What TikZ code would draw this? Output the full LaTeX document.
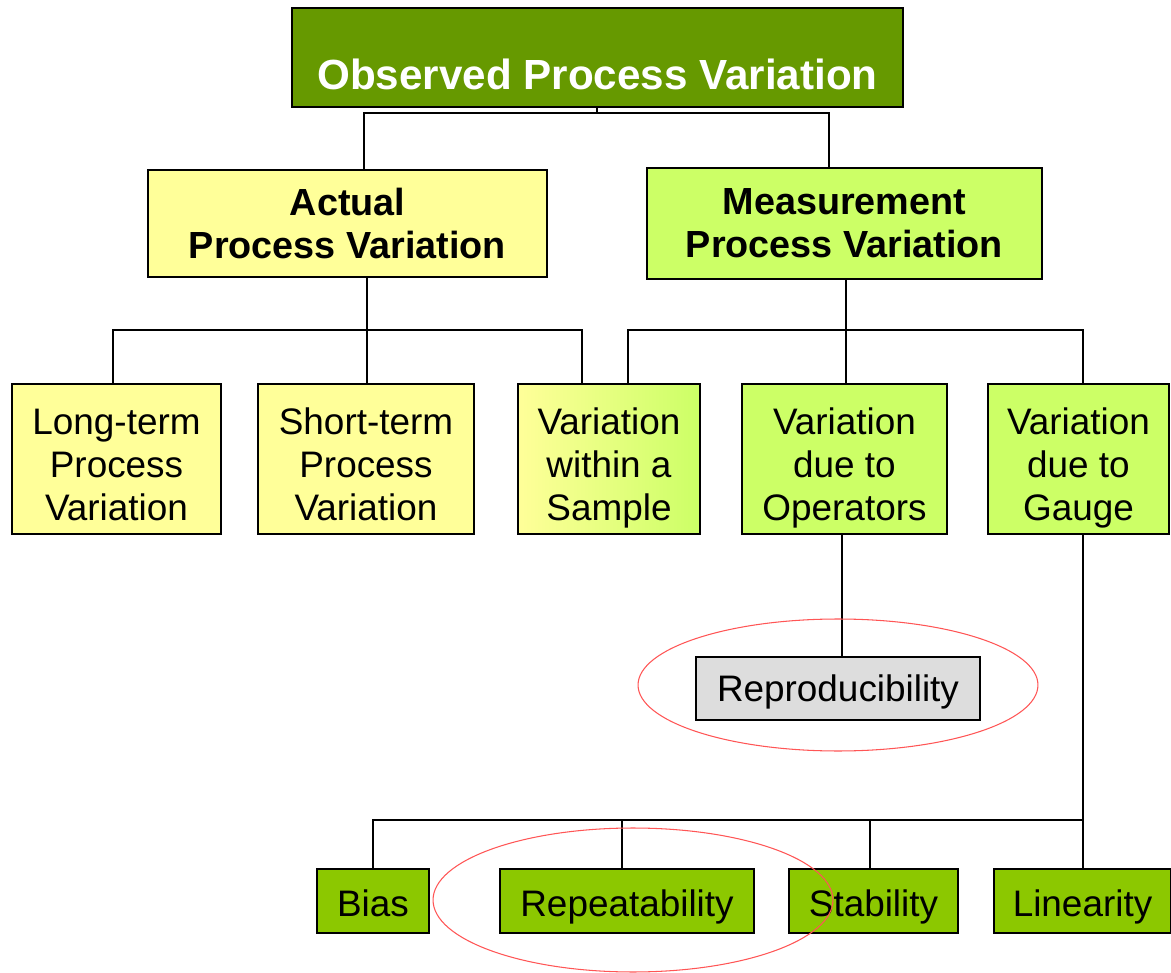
\documentclass[tikz,border=0pt]{standalone}
\usepackage{fontspec}
\setmainfont{Liberation Sans}
\usepackage{xcolor}
\usepackage{tikz}

\definecolor{obsgreen}{HTML}{669900}
\definecolor{actyellow}{HTML}{FFFF99}
\definecolor{measgreen}{HTML}{CCFF66}
\definecolor{leafgreen}{HTML}{8CC800}
\definecolor{reprogray}{HTML}{DDDDDD}
\definecolor{ringred}{HTML}{FF5555}

\begin{document}
\begin{tikzpicture}[x=0.02cm, y=-0.02cm]
        % Define styles
        \tikzset{
            box/.style={rectangle, draw, line width=1.1pt, align=center, inner sep=0pt},
            obsbox/.style={box, fill=obsgreen, text=white, font=\fontsize{24}{29}\selectfont\bfseries, minimum width=12.22cm, minimum height=1.98cm, text height=37pt, text depth=0pt},
            branchbox/.style={box, font=\fontsize{21.5}{24.5}\selectfont\bfseries, minimum height=2.14cm},
            sourcebox/.style={box, font=\fontsize{21}{24.5}\selectfont, minimum height=3cm, text height=70pt, text depth=0pt},
            leafbox/.style={box, font=\fontsize{21}{24.5}\selectfont, minimum height=1.28cm, text height=18pt, text depth=0pt},
            wire/.style={line width=1.1pt},
            ring/.style={draw=ringred, line width=0.6pt}
        }
        \useasboundingbox (0,0) rectangle (1171,973);

        % Nodes
        \node[obsbox] (obs_node) at (597.5,57.5) {Observed Process Variation};
        \node[branchbox, fill=actyellow, minimum width=7.98cm] (actual_node) at (347.5,223.5) {Actual\\Process Variation};
        \node[branchbox, fill=measgreen, minimum width=7.9cm, minimum height=2.22cm] (meas_node) at (844.5,223.5) {Measurement\\Process Variation};

        \node[sourcebox, fill=actyellow, minimum width=4.18cm] (long_node) at (116.5,459) {Long-term\\Process\\Variation};
        \node[sourcebox, fill=actyellow, minimum width=4.32cm] (short_node) at (366,459) {Short-term\\Process\\Variation};
        \node[sourcebox, left color=actyellow, right color=measgreen, minimum width=3.64cm] (sample_node) at (609,459) {Variation\\within a\\Sample};
        \node[sourcebox, fill=measgreen, minimum width=4.1cm] (oper_node) at (844.5,459) {Variation\\due to\\Operators};
        \node[sourcebox, fill=measgreen, minimum width=3.62cm] (gauge_node) at (1078.5,459) {Variation\\due to\\Gauge};

        \node[leafbox, fill=reprogray, minimum width=5.68cm, minimum height=1.26cm, text height=15pt] (repro_node) at (838,688.5) {Reproducibility};

        \node[leafbox, fill=leafgreen, minimum width=2.24cm] (bias_node) at (373,901) {Bias};
        \node[leafbox, fill=leafgreen, minimum width=5.08cm] (repeat_node) at (627,901) {Repeatability};
        \node[leafbox, fill=leafgreen, minimum width=3.38cm] (stab_node) at (873.5,901) {Stability};
        \node[leafbox, fill=leafgreen, minimum width=3.54cm] (lin_node) at (1082.5,901) {Linearity};

        % Bus points
        \coordinate (obs_bus_m) at (597,113);
        \coordinate (obs_bus_l) at (364,113);
        \coordinate (obs_bus_r) at (829,113);
        \coordinate (act_bus_l) at (113,330);
        \coordinate (act_bus_m) at (367,330);
        \coordinate (act_bus_r) at (582,330);
        \coordinate (meas_bus_l) at (628,330);
        \coordinate (meas_bus_m) at (846,330);
        \coordinate (meas_bus_r) at (1083,330);
        \coordinate (oper_drop) at (842,600);
        \coordinate (gauge_bus_l) at (373,820);
        \coordinate (gauge_bus_m) at (622,820);
        \coordinate (gauge_bus_s) at (870,820);
        \coordinate (gauge_bus_r) at (1083,820);

        % Connectors
        \draw[wire] (obs_bus_m |- obs_node.south) -- (obs_bus_m);
        \draw[wire] (obs_bus_l |- actual_node.north) -- (obs_bus_l) -- (obs_bus_r) -- (obs_bus_r |- meas_node.north);
        \draw[wire] (act_bus_m |- actual_node.south) -- (act_bus_m |- short_node.north);
        \draw[wire] (act_bus_l |- long_node.north) -- (act_bus_l) -- (act_bus_r) -- (act_bus_r |- sample_node.north);
        \draw[wire] (meas_bus_m |- meas_node.south) -- (meas_bus_m |- oper_node.north);
        \draw[wire] (meas_bus_l |- sample_node.north) -- (meas_bus_l) -- (meas_bus_r) -- (meas_bus_r |- gauge_node.north);
        \draw[wire] (oper_drop |- oper_node.south) -- (oper_drop |- repro_node.north);
        \draw[wire] (gauge_bus_r |- gauge_node.south) -- (gauge_bus_r |- lin_node.north);
        \draw[wire] (bias_node.north) |- (gauge_bus_r);
        \draw[wire] (gauge_bus_m |- repeat_node.north) -- (gauge_bus_m);
        \draw[wire] (gauge_bus_s |- stab_node.north) -- (gauge_bus_s);

        % Rings
        \draw[ring] (838,685) ellipse [x radius=4cm, y radius=1.32cm];
        \draw[ring] (633,900) ellipse [x radius=4cm, y radius=1.44cm];
\end{tikzpicture}
\end{document}
